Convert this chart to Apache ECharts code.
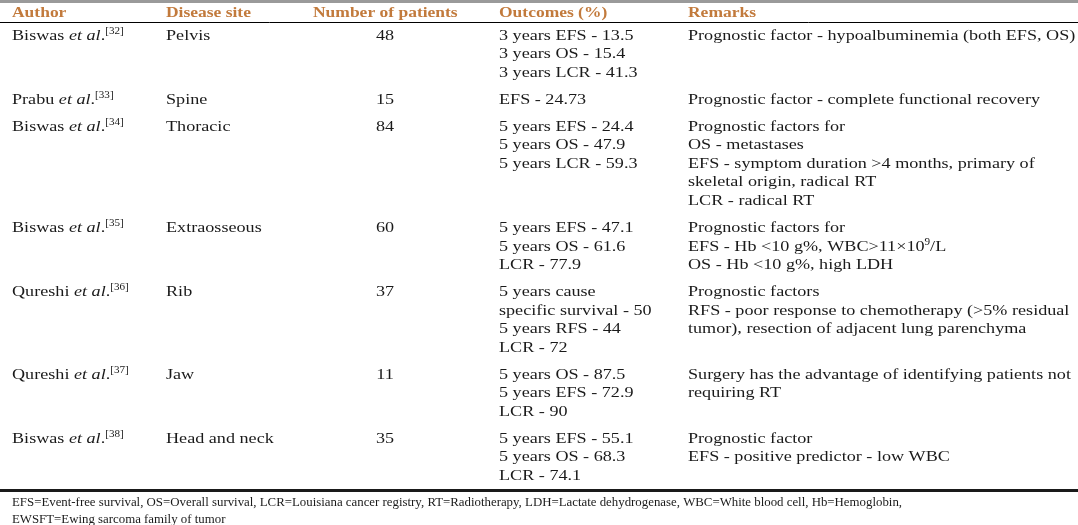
<!DOCTYPE html>
<html><head><meta charset="utf-8">
<script src="https://cdn.jsdelivr.net/npm/echarts@6/dist/echarts.min.js"></script>
<style>html,body{margin:0;padding:0;background:#fff;}#c{width:1078px;height:525px;}</style>
</head><body><div id="c"></div>
<script>
// ---- data ----
var headers = ['Author', 'Disease site', 'Number of patients', 'Outcomes (%)', 'Remarks'];
var authors = ['Biswas', 'Prabu', 'Biswas', 'Biswas', 'Qureshi', 'Qureshi', 'Biswas'];
var refs = [32, 33, 34, 35, 36, 37, 38];
var sites = ['Pelvis', 'Spine', 'Thoracic', 'Extraosseous', 'Rib', 'Jaw', 'Head and neck'];
var patients = [48, 15, 84, 60, 37, 11, 35];
var outcomes = [
  ['3 years EFS - 13.5', '3 years OS - 15.4', '3 years LCR - 41.3'],
  ['EFS - 24.73'],
  ['5 years EFS - 24.4', '5 years OS - 47.9', '5 years LCR - 59.3'],
  ['5 years EFS - 47.1', '5 years OS - 61.6', 'LCR - 77.9'],
  ['5 years cause', 'specific survival - 50', '5 years RFS - 44', 'LCR - 72'],
  ['5 years OS - 87.5', '5 years EFS - 72.9', 'LCR - 90'],
  ['5 years EFS - 55.1', '5 years OS - 68.3', 'LCR - 74.1']
];
var remarks = [
  ['Prognostic factor - hypoalbuminemia (both EFS, OS)'],
  ['Prognostic factor - complete functional recovery'],
  ['Prognostic factors for', 'OS - metastases', 'EFS - symptom duration >4 months, primary of', 'skeletal origin, radical RT', 'LCR - radical RT'],
  ['Prognostic factors for', 'EFS - Hb <10 g%, WBC>11\u00d710^9/L', 'OS - Hb <10 g%, high LDH'],
  ['Prognostic factors', 'RFS - poor response to chemotherapy (>5% residual', 'tumor), resection of adjacent lung parenchyma'],
  ['Surgery has the advantage of identifying patients not', 'requiring RT'],
  ['Prognostic factor', 'EFS - positive predictor - low WBC']
];
var footnotes = [
  'EFS=Event-free survival, OS=Overall survival, LCR=Louisiana cancer registry, RT=Radiotherapy, LDH=Lactate dehydrogenase, WBC=White blood cell, Hb=Hemoglobin,',
  'EWSFT=Ewing sarcoma family of tumor'
];

// ---- layout ----
var FONT = '"Liberation Serif", "Times New Roman", serif';
var FS = 15.5;
var STRETCH = 1.17;
var colX = [12, 166, 385, 499, 688];
var colAlign = ['left', 'left', 'center', 'left', 'left'];
var firstOffset = 0.73, rowGap = 0.44, lastOffset = 0.75;
var headerY = -0.49;

var items = [];
var y = firstOffset;
for (var r = 0; r < authors.length; r++) {
  var n = Math.max(outcomes[r].length, remarks[r].length, 1);
  items.push({ c: 0, y: y, t: '{n|' + authors[r] + ' }{i|et al}{n|.}{s|[' + refs[r] + ']}' });
  items.push({ c: 1, y: y, t: '{n|' + sites[r] + '}' });
  items.push({ c: 2, y: y, t: '{n|' + patients[r] + '}' });
  outcomes[r].forEach(function (s, k) { items.push({ c: 3, y: y + k, t: '{n|' + s + '}' }); });
  remarks[r].forEach(function (s, k) {
    var t = s.replace(/\^(\w+)/g, '}{s|$1}{n|');
    items.push({ c: 4, y: y + k, t: '{n|' + t + '}' });
  });
  y += n + rowGap;
}
var total = y - rowGap - 1 + lastOffset;
headers.forEach(function (h, k) { items.push({ c: k, y: headerY, t: '{h|' + h + '}', hx: k === 2 ? 313 : null }); });
footnotes.forEach(function (f, k) { items.push({ c: 0, y: total + 0.68 + k * 0.92, t: '{f|' + f + '}', noStretch: true }); });

var rich = {
  n: { fontFamily: FONT, fontSize: FS, fill: '#1a1a1a', lineHeight: 18 },
  i: { fontFamily: FONT, fontSize: FS, fontStyle: 'italic', fill: '#1a1a1a', lineHeight: 18 },
  s: { fontFamily: FONT, fontSize: 9.5, fill: '#1a1a1a', verticalAlign: 'top', lineHeight: 18 },
  h: { fontFamily: FONT, fontSize: 14.95, fontWeight: 'bold', fill: '#c27a3c', lineHeight: 18 },
  f: { fontFamily: FONT, fontSize: 12.85, fill: '#1a1a1a', lineHeight: 16 }
};

var chart = echarts.init(document.getElementById('c'), null, { renderer: 'canvas' });
chart.setOption({
  animation: false,
  grid: { left: 0, right: 0, top: 22, bottom: 35 },
  xAxis: [
    { type: 'value', min: 0, max: 1078, position: 'top', axisLine: { show: true, lineStyle: { color: '#000', width: 1 } }, axisTick: { show: false }, axisLabel: { show: false }, splitLine: { show: false } },
    { type: 'value', min: 0, max: 1078, position: 'bottom', axisLine: { show: true, lineStyle: { color: '#1a1a1a', width: 3 } }, axisTick: { show: false }, axisLabel: { show: false }, splitLine: { show: false } }
  ],
  yAxis: { type: 'value', min: 0, max: total, inverse: true, show: false },
  graphic: [{ type: 'rect', left: 0, top: 0, shape: { width: 1078, height: 3 }, style: { fill: '#9a9a9a' } }],
  series: [{
    type: 'custom',
    clip: false,
    coordinateSystem: 'cartesian2d',
    data: items.map(function (it) { return [it.hx != null ? it.hx : colX[it.c], it.y]; }),
    renderItem: function (params, api) {
      var it = items[params.dataIndex];
      var p = api.coord([api.value(0), api.value(1)]);
      var align = it.hx != null ? 'left' : colAlign[it.c];
      return {
        type: 'text', x: p[0], y: p[1],
        scaleX: it.noStretch ? 1 : STRETCH,
        style: { text: it.t, rich: rich, textAlign: align, textVerticalAlign: 'middle' }
      };
    }
  }]
});
</script></body></html>
